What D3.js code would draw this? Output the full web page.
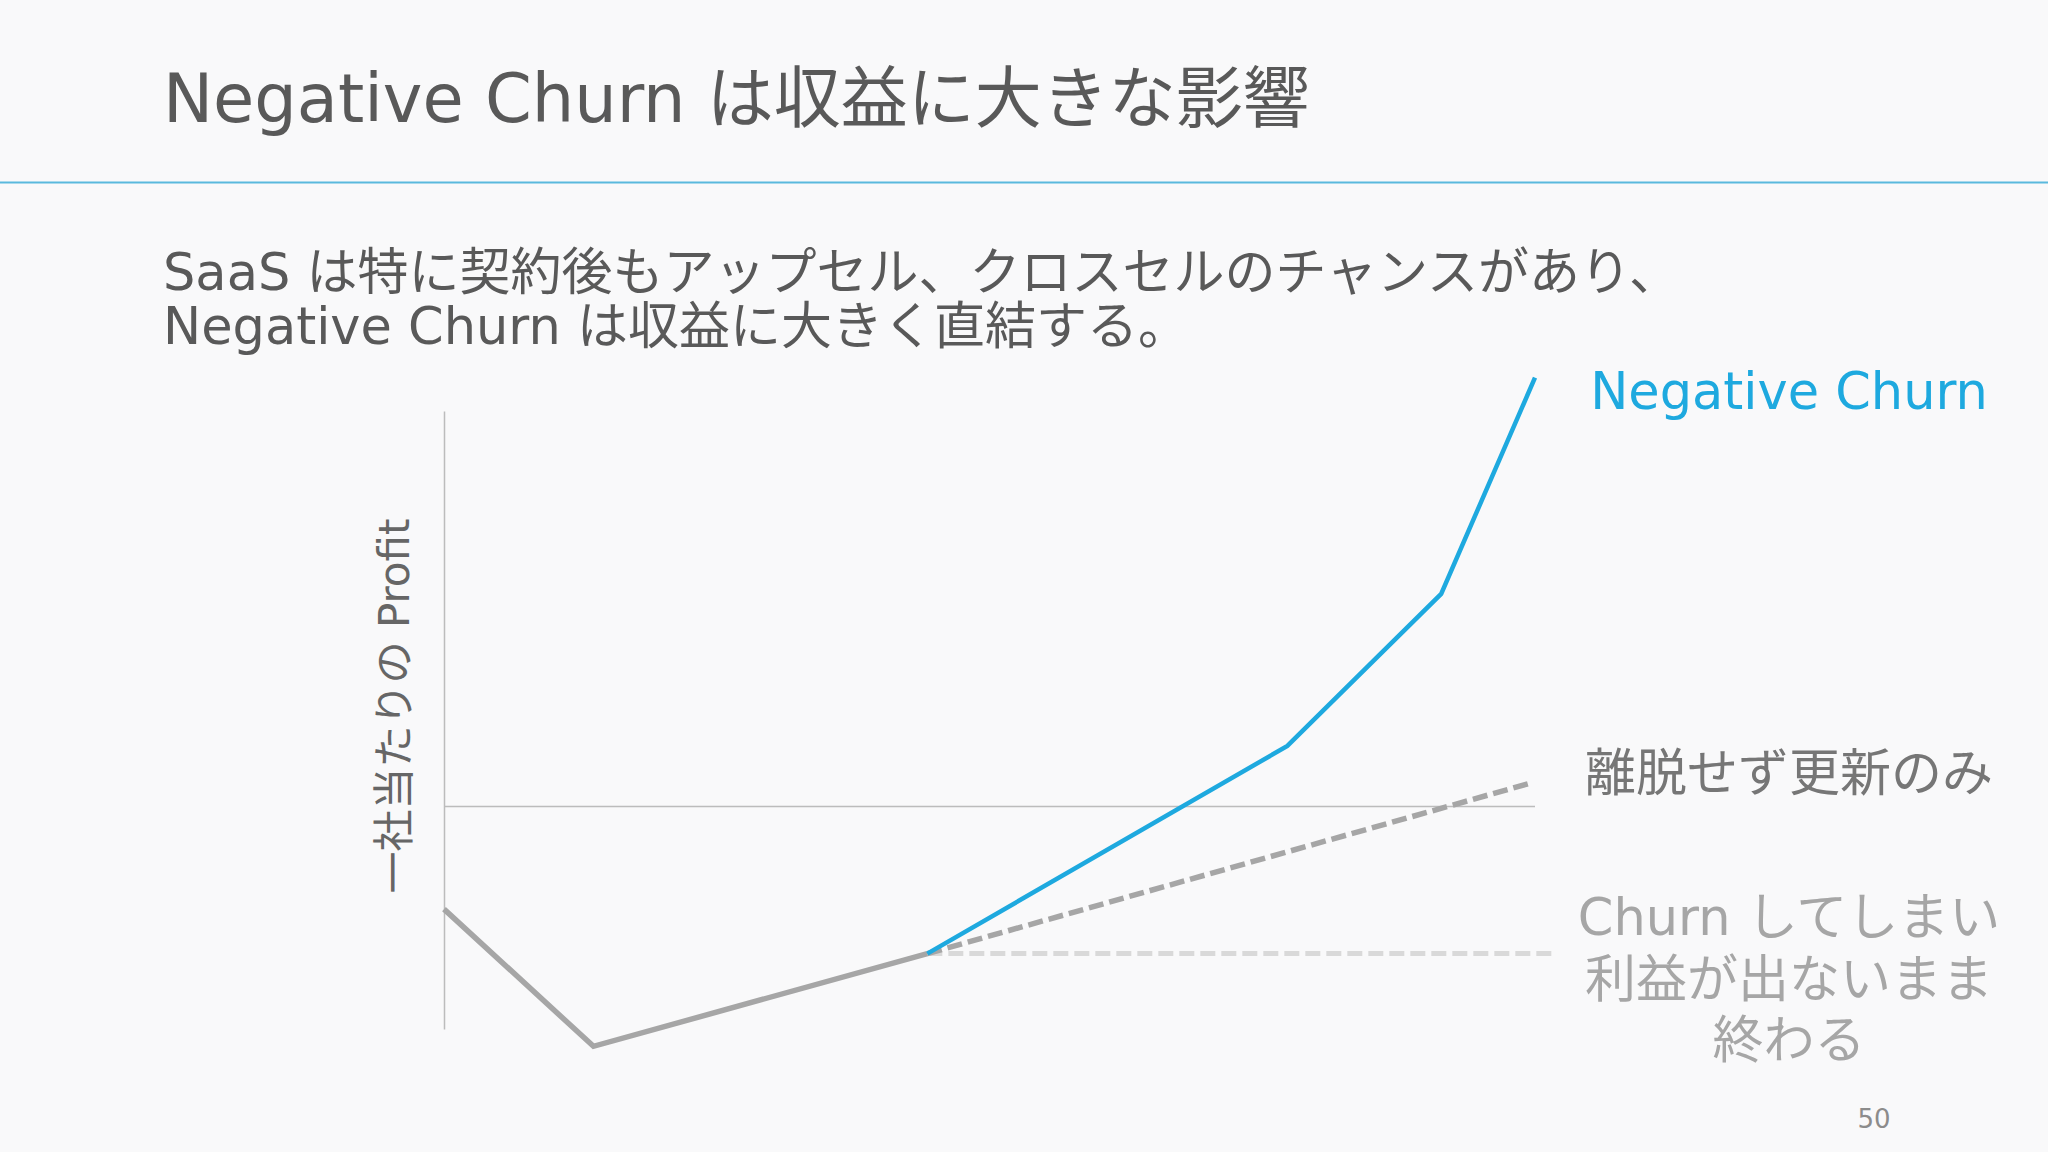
<!DOCTYPE html>
<html>
<head>
<meta charset="utf-8">
<script src="https://cdn.jsdelivr.net/npm/d3@7"></script>
<style>
  html, body { margin: 0; padding: 0; background: #f9f9fa; }
  svg { display: block; }
  text { font-family: "DejaVu Sans", "Noto Sans CJK JP", sans-serif; }
</style>
</head>
<body>
<div id="chart"></div>
<script>
"use strict"

// Negative churn profit curves

var title = "Negative Churn は収益に大きな影響"
var subtitle = [
  "SaaS は特に契約後もアップセル、クロスセルのチャンスがあり、",
  "Negative Churn は収益に大きく直結する。"
]
var yLabel = "一社当たりの Profit"
var pageNumber = "50"

// time (x) and profit per customer (y)
var commonPeriods = [0, 1.37, 4.43]
var commonProfit = [-0.83, -1.94, -1.19]
var negativePeriods = [4.43, 7.73, 9.14, 10]
var negativeProfit = [-1.19, 0.49, 1.72, 3.47]
var renewalPeriods = [4.43, 9.96]
var renewalProfit = [-1.19, 0.19]
var churnPeriods = [4.43, 10.16]
var churnProfit = [-1.19, -1.19]

var seriesLabels = [
  ["Negative Churn"],
  ["離脱せず更新のみ"],
  ["Churn してしまい", "利益が出ないまま", "終わる"]
]

var width = 2048
var height = 1152
var blue = "#1ea9df"

var svg = d3.select("#chart").append("svg")
  .attr("width", width)
  .attr("height", height)

svg.append("rect")
  .attr("width", width)
  .attr("height", height)
  .attr("fill", "#f9f9fa")

// header
svg.append("text")
  .attr("x", 163)
  .attr("y", 122)
  .attr("font-size", 67)
  .attr("fill", "#595959")
  .text(title)

svg.append("line")
  .attr("x1", 0).attr("x2", width)
  .attr("y1", 182.5).attr("y2", 182.5)
  .attr("stroke", "#5ab9dd")
  .attr("stroke-width", 2)

svg.append("g")
  .selectAll("text")
    .data(subtitle)
  .enter().append("text")
    .attr("x", 163)
    .attr("y", function(d, i) { return 290 + i * 54 })
    .attr("font-size", 51)
    .attr("fill", "#595959")
    .text(function(d) { return d })

// scales
var x = d3.scaleLinear()
  .domain([0, 10])
  .range([444, 1535])

var y = d3.scaleLinear()
  .domain([-1.8, 3.2])
  .range([1029, 411])

function pairs(xs, ys) {
  return xs.map(function(d, i) { return [d, ys[i]] })
}

var line = d3.line()
  .x(function(d) { return x(d[0]) })
  .y(function(d) { return y(d[1]) })

// axes: zero line and bare vertical axis
svg.append("line")
  .attr("x1", x(0)).attr("x2", x(10))
  .attr("y1", y(0)).attr("y2", y(0))
  .attr("stroke", "#bcbcbc")
  .attr("stroke-width", 1.5)

var yAxis = svg.append("g")
  .attr("transform", "translate(" + x(0) + ",0)")
  .call(d3.axisLeft(y).tickValues([]).tickSizeOuter(0))
yAxis.select(".domain")
  .attr("stroke", "#bcbcbc")
  .attr("stroke-width", 1.5)

svg.append("text")
  .attr("transform", "translate(409," + 706 + ") rotate(-90)")
  .attr("text-anchor", "middle")
  .attr("font-size", 42)
  .attr("fill", "#666666")
  .text(yLabel)

// series
svg.append("path")
  .datum(pairs(churnPeriods, churnProfit))
  .attr("d", line)
  .attr("fill", "none")
  .attr("stroke", "#d9d9d9")
  .attr("stroke-width", 5)
  .attr("stroke-dasharray", "15,6")

svg.append("path")
  .datum(pairs(renewalPeriods, renewalProfit))
  .attr("d", line)
  .attr("fill", "none")
  .attr("stroke", "#a6a6a6")
  .attr("stroke-width", 5.5)
  .attr("stroke-dasharray", "15,6")

svg.append("path")
  .datum(pairs(commonPeriods, commonProfit))
  .attr("d", line)
  .attr("fill", "none")
  .attr("stroke", "#a6a6a6")
  .attr("stroke-width", 5.5)

svg.append("path")
  .datum(pairs(negativePeriods, negativeProfit))
  .attr("d", line)
  .attr("fill", "none")
  .attr("stroke", blue)
  .attr("stroke-width", 4.5)

// series labels
var labelStyle = [
  { y: 409, color: blue },
  { y: 791, color: "#767676" },
  { y: 935, color: "#a6a6a6" }
]

seriesLabels.forEach(function(lines, k) {
  svg.append("g")
    .selectAll("text")
      .data(lines)
    .enter().append("text")
      .attr("x", 1789)
      .attr("y", function(d, i) { return labelStyle[k].y + i * 61.5 })
      .attr("text-anchor", "middle")
      .attr("font-size", 51)
      .attr("fill", labelStyle[k].color)
      .text(function(d) { return d })
})

svg.append("text")
  .attr("x", 1874)
  .attr("y", 1128)
  .attr("text-anchor", "middle")
  .attr("font-size", 26)
  .attr("fill", "#8c8c8c")
  .text(pageNumber)
</script>
</body>
</html>
